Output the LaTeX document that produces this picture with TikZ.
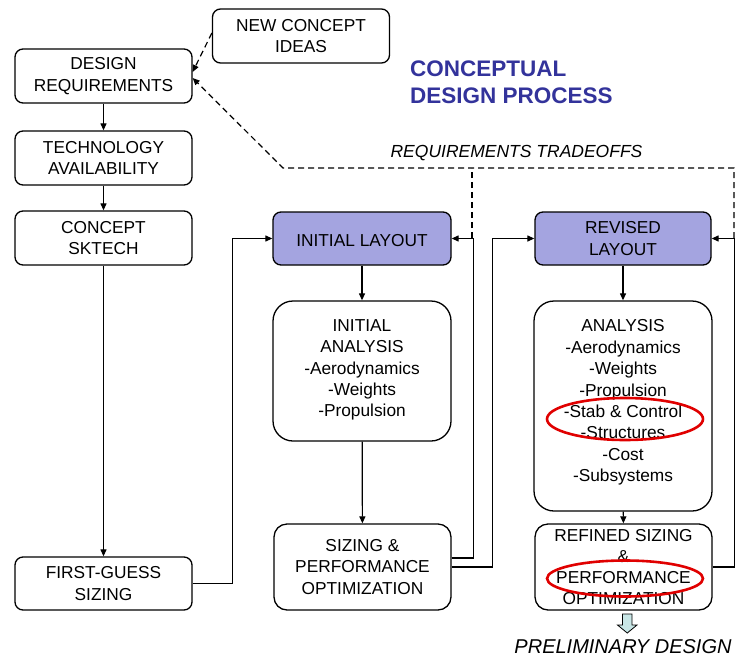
\documentclass[tikz,border=0pt]{standalone}
\usepackage{fontspec}
\setmainfont{Liberation Sans}
\usetikzlibrary{arrows.meta}
\definecolor{layoutfill}{HTML}{A4A4E0}
\definecolor{titleblue}{HTML}{33339B}
\definecolor{hollowfill}{HTML}{C8E6E6}
\definecolor{ringred}{HTML}{E00000}
\begin{document}
\begin{tikzpicture}[x=1pt,y=-1pt,
  box/.style={draw, line width=1.3pt, rounded corners=8pt, align=center,
    font=\fontsize{17.3}{21.3}\selectfont, inner sep=0pt,
    execute at begin node={\rule{0pt}{16.5pt}}},
  layoutbox/.style={box, fill=layoutfill},
  bigbox/.style={box, rounded corners=20pt},
  midbox/.style={box, rounded corners=13pt},
  txt/.style={align=center, font=\fontsize{17.3}{21.4}\selectfont, inner sep=0pt},
  conn/.style={line width=1.2pt, -{Triangle[length=7pt,width=6pt]}},
  dashconn/.style={line width=1.2pt, dash pattern=on 6pt off 4pt},
  ring/.style={draw=ringred, line width=2.6pt}]
\useasboundingbox (0,0) rectangle (735,661);

% left column
\node[box, minimum width=177pt, minimum height=54pt] (nci) at (301,36) {NEW CONCEPT\\IDEAS};
\node[box, minimum width=177pt, minimum height=54pt] (dr) at (103.5,76) {DESIGN\\REQUIREMENTS};
\node[box, minimum width=177pt, minimum height=54pt] (ta) at (103.5,158) {TECHNOLOGY\\AVAILABILITY};
\node[box, minimum width=177pt, minimum height=54pt] (cs) at (103.5,238) {CONCEPT\\SKTECH};
\node[box, minimum width=177pt, minimum height=53pt] (fgs) at (103.5,583.5) {FIRST-GUESS\\SIZING};

% middle column
\node[layoutbox, minimum width=178pt, minimum height=53pt] (il) at (362,238.5) {INITIAL LAYOUT};
\node[bigbox, minimum width=178pt, minimum height=140pt] (ia) at (362,371) {};
\node[txt] (iatext) at ([yshift=1pt]ia.center) {INITIAL\\ANALYSIS\\-Aerodynamics\\-Weights\\-Propulsion};
\node[midbox, minimum width=177pt, minimum height=86pt] (sp) at (362.5,567) {SIZING \&\\PERFORMANCE\\OPTIMIZATION};

% right column
\node[layoutbox, minimum width=176pt, minimum height=53pt] (rl) at (623,238.5) {REVISED\\LAYOUT};
\node[bigbox, minimum width=178pt, minimum height=210pt] (an) at (623,406) {};
\node[txt] (antext) at ([yshift=3.5pt]an.center) {ANALYSIS\\-Aerodynamics\\-Weights\\-Propulsion\\-Stab \& Control\\-Structures\\-Cost\\-Subsystems};
\node[midbox, minimum width=177pt, minimum height=86pt] (rs) at (623.5,567) {REFINED SIZING\\\&\\PERFORMANCE\\OPTIMIZATION};

% labels
\node[anchor=west, align=left, inner sep=0pt, text=titleblue,
  font=\fontsize{22.5}{27}\selectfont\bfseries] (title) at (410,82.5) {CONCEPTUAL\\DESIGN PROCESS};
\node[inner sep=0pt, font=\fontsize{17.5}{21}\selectfont\itshape] (rt) at (516.5,153) {REQUIREMENTS TRADEOFFS};
\node[inner sep=0pt, font=\fontsize{20}{24}\selectfont\itshape] (pd) at (623,647) {PRELIMINARY DESIGN};

% solid connectors
\draw[conn] (dr) -- (ta);
\draw[conn] (ta) -- (cs);
\draw[conn] (cs) -- (fgs);
\draw[conn] (fgs.east) -- ++(40,0) |- (il.west);
\draw[conn] (il) -- (ia);
\draw[conn] (ia) -- (sp);
\draw[conn] ([yshift=9pt]sp.east) -- ++(22,0) |- (il.east);
\draw[conn] (sp.east) -- ++(41,0) |- (rl.west);
\draw[conn] (rl) -- (an);
\draw[conn] (an) -- (rs);
\draw[conn] (rs.east) -- ++(22,0) |- (rl.east);

% dashed feedback
\coordinate (dR) at (734,238);
\coordinate (dRtop) at (734,168);
\coordinate (dM) at (472,238);
\coordinate (dMtop) at (472,168);
\coordinate (dL) at (283,168);
\draw[dashconn, -{Triangle[length=7pt,width=6pt]}] (dR) -- (dRtop) -- (dL) -- ([yshift=-2pt]dr.east);
\draw[dashconn] (dM) -- (dMtop);
\draw[dashconn, -{Triangle[length=7pt,width=6pt]}] ([yshift=3pt]nci.west) -- ([yshift=4pt]dr.east);

% hollow arrow
\draw[line width=0.8pt, fill=hollowfill] (622.5,614) -- (632,614) -- (632,625) -- (637,625)
  -- (627.25,633) -- (617.5,625) -- (622.5,625) -- cycle;

% red rings
\draw[ring] (625,419) ellipse [x radius=78pt, y radius=21pt];
\draw[ring] (625,578.5) ellipse [x radius=78pt, y radius=18pt];
\end{tikzpicture}
\end{document}
